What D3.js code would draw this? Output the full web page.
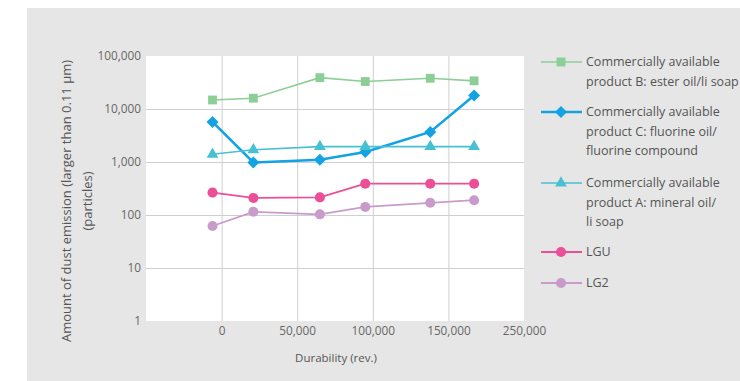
<!DOCTYPE html>
<html><head><meta charset="utf-8">
<script src="https://cdn.jsdelivr.net/npm/d3@7"></script>
<style>html,body{margin:0;padding:0;background:#fff;}svg{display:block;}</style>
</head><body>
<svg id="c" width="740" height="381"></svg>
<script>
const xValues = [-6000, 21000, 65000, 95000, 138000, 167000];
const xTickValues = [0, 50000, 100000, 150000, 200000];
const xTickLabels = ["0", "50,000", "100,000", "150,000", "250,000"];
const yTickValues = [1, 10, 100, 1000, 10000, 100000];
const yTickLabels = ["1", "10", "100", "1,000", "10,000", "100,000"];

const seriesNames = [
  ["Commercially available", "product B: ester oil/li soap"],
  ["Commercially available", "product C: fluorine oil/", "fluorine compound"],
  ["Commercially available", "product A: mineral oil/", "li soap"],
  ["LGU"],
  ["LG2"]
];
const productB = [14800, 16000, 39000, 33000, 38000, 34000];
const productC = [5700, 980, 1100, 1550, 3700, 18000];
const productA = [1400, 1700, 1950, 1950, 1950, 1950];
const lgu = [265, 210, 215, 390, 390, 390];
const lg2 = [62, 115, 103, 142, 170, 190];

const colors = ["#8ccf96", "#13a2e2", "#47c0d3", "#ea4f97", "#c99bcb"];
const symbols = [d3.symbolSquare, d3.symbolSquare, d3.symbolTriangle, d3.symbolCircle, d3.symbolCircle];
const rotations = [0, 45, 0, 0, 0];
const symSizes = [78, 72, 60, 80, 80];
const widths = [1.6, 2.6, 1.6, 1.8, 1.8];
const allSeries = [productB, productC, productA, lgu, lg2];

const svg = d3.select("#c");
svg.append("rect").attr("x", 27).attr("y", 8).attr("width", 713).attr("height", 373).attr("fill", "#e6e6e6");

const L = 146, R = 524, T = 56, B = 321;
const x = d3.scaleLinear().domain([-50000, 200000]).range([L, R]);
const y = d3.scaleLog().domain([1, 100000]).range([B, T]);

svg.append("rect").attr("x", L).attr("y", T).attr("width", R - L).attr("height", B - T).attr("fill", "#fff");

const font = "'Open Sans', sans-serif";

const gx = svg.append("g").attr("transform", `translate(0,${B})`)
  .call(d3.axisBottom(x).tickValues(xTickValues.slice(0, 4)).tickSize(-(B - T)).tickFormat(""));
gx.select(".domain").remove();
gx.selectAll("line").attr("stroke", "#cfcfcf").attr("stroke-width", 1);

const gy = svg.append("g").attr("transform", `translate(${L},0)`)
  .call(d3.axisLeft(y).tickValues(yTickValues.slice(1, 5)).tickSize(-(R - L)).tickFormat(""));
gy.select(".domain").remove();
gy.selectAll("line").attr("stroke", "#cfcfcf").attr("stroke-width", 1);

const ax = svg.append("g").attr("transform", `translate(0,${B})`)
  .call(d3.axisBottom(x).tickValues(xTickValues).tickSize(0).tickPadding(6)
    .tickFormat((d, i) => xTickLabels[i]));
ax.select(".domain").remove();
ax.selectAll("text").attr("font-family", font).attr("font-size", 11.8).attr("fill", "#666");

const ay = svg.append("g").attr("transform", `translate(${L},0)`)
  .call(d3.axisLeft(y).tickValues(yTickValues).tickSize(0).tickPadding(5)
    .tickFormat((d, i) => yTickLabels[i]));
ay.select(".domain").remove();
ay.selectAll("text").attr("font-family", font).attr("font-size", 11.8).attr("fill", "#666");

svg.append("text").attr("x", 336).attr("y", 362).attr("text-anchor", "middle")
  .attr("font-family", font).attr("font-size", 11.5).attr("fill", "#555").text("Durability (rev.)");
const yt = svg.append("text").attr("transform", `translate(71,201) rotate(-90)`)
  .attr("text-anchor", "middle").attr("font-family", font).attr("font-size", 13).attr("fill", "#555");
yt.append("tspan").attr("x", 0).attr("dy", 0).text("Amount of dust emission (larger than 0.11 µm)");
yt.append("tspan").attr("x", 0).attr("dy", 21).text("(particles)");

const line = d3.line().x((d, i) => x(xValues[i])).y(d => y(d));
allSeries.forEach((s, k) => {
  svg.append("path").datum(s).attr("d", line).attr("fill", "none")
    .attr("stroke", colors[k]).attr("stroke-width", widths[k]);
  svg.append("g").selectAll("path").data(s).join("path")
    .attr("transform", (d, i) => `translate(${x(xValues[i])},${y(d)}) rotate(${rotations[k]})`)
    .attr("d", d3.symbol().type(symbols[k]).size(symSizes[k]))
    .attr("fill", colors[k]);
});

const legTop = [62, 112, 183, 252, 283];
seriesNames.forEach((names, k) => {
  const g = svg.append("g").attr("transform", `translate(0,${legTop[k]})`);
  g.append("line").attr("x1", 541).attr("x2", 582).attr("y1", 0).attr("y2", 0)
    .attr("stroke", colors[k]).attr("stroke-width", widths[k]);
  g.append("path").attr("transform", `translate(561,0) rotate(${rotations[k]})`)
    .attr("d", d3.symbol().type(symbols[k]).size(symSizes[k])).attr("fill", colors[k]);
  names.forEach((t, j) => {
    g.append("text").attr("x", 586).attr("y", j * 19.5).attr("dy", "0.35em")
      .attr("font-family", font).attr("font-size", 12.5).attr("fill", "#555").text(t);
  });
});
</script>
</body></html>
